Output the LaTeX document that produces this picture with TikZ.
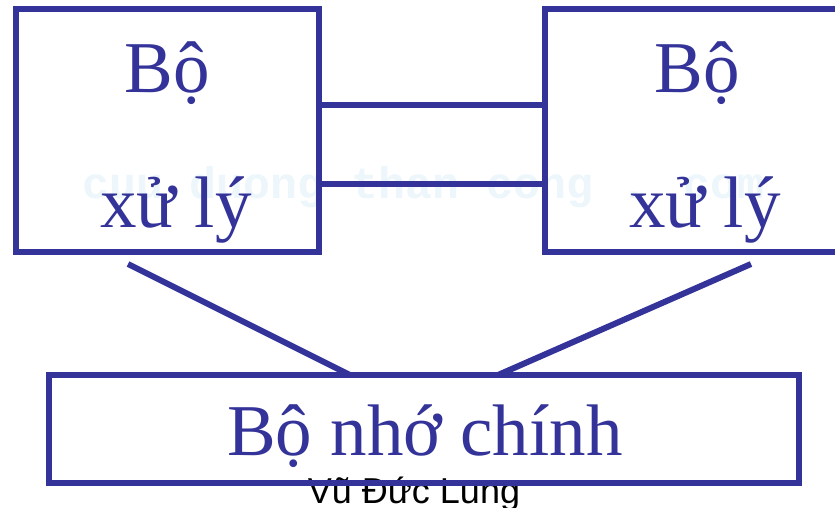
\documentclass[tikz,border=0pt]{standalone}
\usepackage{fontspec}
\setmainfont{Liberation Serif}
\newfontfamily\authorfont{Liberation Sans}
\newfontfamily\wmfont{Liberation Mono}
\definecolor{boxblue}{HTML}{333399}
\definecolor{wmblue}{HTML}{ECF6FB}
\begin{document}
\begin{tikzpicture}[x=1pt,y=-1pt,
  blk/.style={draw=boxblue,line width=6pt,inner sep=0pt,outer sep=0pt},
  big/.style={text=boxblue,font=\fontsize{73}{73}\selectfont,anchor=base,inner sep=0pt},
  link/.style={draw=boxblue,line width=6pt}]
\useasboundingbox (0,0) rectangle (835,507);
\clip (0,0) rectangle (835,507);
\fill[white] (0,0) rectangle (835,507);
% watermark
\node[text=wmblue,font=\wmfont\bfseries\fontsize{44}{44}\selectfont,anchor=base west,inner sep=0pt,xscale=1.02] (wm) at (82,198) {cuu duong than cong . com};
% processors
\node[blk,minimum width=303pt,minimum height=243pt] (cpu1) at (167.5,130.5) {};
\node[blk,minimum width=301pt,minimum height=243pt] (cpu2) at (695,130.5) {};
\node[big] (t1a) at (167,92) {Bộ};
\node[big] (t1b) at (176,227) {xử lý};
\node[big] (t2a) at (697,92) {Bộ};
\node[big] (t2b) at (705,227) {xử lý};
% bus links
\coordinate (ya) at (0,105);
\coordinate (yb) at (0,183.5);
\draw[link] (cpu1.east |- ya) -- (cpu2.west |- ya);
\draw[link] (cpu1.east |- yb) -- (cpu2.west |- yb);
% author
\node[font=\authorfont\fontsize{36}{36}\selectfont,anchor=base,inner sep=0pt] (author) at (414,503) {Vũ Đức Lung};
% memory
\node[blk,minimum width=750pt,minimum height=108pt] (mem) at (424,429) {};
\node[big] (tm) at (425,455) {Bộ nhớ chính};
% links to memory
\coordinate (s1) at (128,264);
\coordinate (s2) at (751,264);
\coordinate (e1) at (350,376);
\coordinate (e2) at (498,376);
\draw[link] (s1) -- (e1 |- mem.north);
\draw[link] (s2) -- (e2 |- mem.north);
\end{tikzpicture}
\end{document}
